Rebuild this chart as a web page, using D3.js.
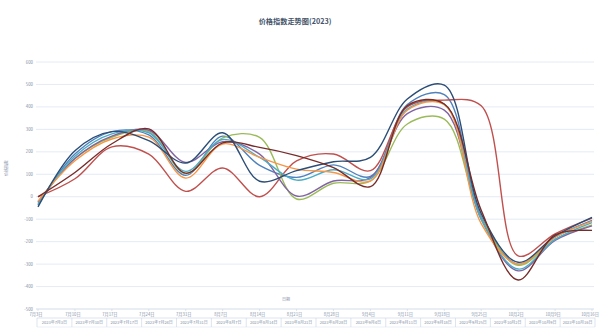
<!DOCTYPE html>
<html>
<head>
<meta charset="utf-8">
<script src="https://cdn.jsdelivr.net/npm/d3@7"></script>
<style>
  body { margin: 0; background: #fff; }
  svg { display: block; font-family: "Noto Sans CJK SC", "Noto Sans", sans-serif; }
</style>
</head>
<body>
<div id="chart"></div>
<script>
// Dates (weekly)
const dates = ["7月3日", "7月10日", "7月17日", "7月24日", "7月31日", "8月7日", "8月14日", "8月21日",
  "8月28日", "9月4日", "9月11日", "9月18日", "9月25日", "10月2日", "10月9日", "10月16日"];
const fullDates = ["2023年7月3日", "2023年7月10日", "2023年7月17日", "2023年7月24日", "2023年7月31日",
  "2023年8月7日", "2023年8月14日", "2023年8月21日", "2023年8月28日", "2023年9月4日", "2023年9月11日",
  "2023年9月18日", "2023年9月25日", "2023年10月2日", "2023年10月9日", "2023年10月16日"];
const yTicks = [600, 500, 400, 300, 200, 100, 0, -100, -200, -300, -400, -500];

// Series values
const serieBleu   = [-35, 190, 290, 275, 95, 270, 140, 86, 142, 90, 410, 455, -90, -300, -180, -105];
const serieRouge  = [0, 80, 222, 190, 24, 128, 0, 160, 190, 116, 400, 430, 405, -263, -165, -95];
const serieVert   = [-25, 170, 265, 290, 103, 262, 264, -10, 60, 70, 324, 346, -95, -305, -190, -125];
const serieViolet = [-25, 170, 270, 296, 153, 245, 190, 3, 70, 85, 370, 386, -100, -330, -195, -130];
const serieCyan   = [-35, 180, 280, 285, 113, 255, 175, 74, 120, 80, 390, 412, -100, -322, -190, -115];
const serieOrange = [-20, 160, 257, 265, 83, 235, 175, 123, 108, 70, 385, 410, -120, -300, -180, -110];
const serieMarine = [-45, 205, 290, 250, 150, 285, 69, 116, 156, 175, 435, 497, -75, -292, -175, -92];
const serieBordeaux = [0, 108, 236, 302, 105, 240, 220, 183, 130, 45, 405, 413, -60, -371, -170, -150];

const series = [
  { name: "s1", color: "#4f81bd", values: serieBleu },
  { name: "s2", color: "#c0504d", values: serieRouge },
  { name: "s3", color: "#9bbb59", values: serieVert },
  { name: "s4", color: "#8064a2", values: serieViolet },
  { name: "s5", color: "#4bacc6", values: serieCyan },
  { name: "s6", color: "#f79646", values: serieOrange },
  { name: "s7", color: "#2c4d75", values: serieMarine },
  { name: "s8", color: "#772c2a", values: serieBordeaux }
];

const W = 609, H = 330;
const plot = { left: 36, right: 594, top: 62, bottom: 309 };

const svg = d3.select("#chart").append("svg")
  .attr("width", W).attr("height", H);

const x = d3.scalePoint().domain(dates).range([38, 592]);
const y = d3.scaleLinear().domain([-500, 600]).range([plot.bottom, plot.top]);

// Title
svg.append("text")
  .attr("x", 295).attr("y", 24)
  .attr("text-anchor", "middle")
  .style("font-size", "7.2px").style("font-weight", "bold")
  .style("fill", "#44546a")
  .text("价格指数走势图(2023)");

// Gridlines
svg.append("g").selectAll("line").data(yTicks).join("line")
  .attr("x1", plot.left).attr("x2", plot.right)
  .attr("y1", d => y(d)).attr("y2", d => y(d))
  .attr("stroke", d => d === -500 ? "#c8d4e6" : "#dde6f2")
  .attr("stroke-width", 0.8);

// Y axis labels
svg.append("g").selectAll("text").data(yTicks).join("text")
  .attr("x", 33).attr("y", d => y(d)).attr("dy", "0.35em")
  .attr("text-anchor", "end")
  .style("font-size", "4.3px").style("fill", "#7f8fa6")
  .text(d => d);

// Y axis title
svg.append("text")
  .attr("transform", "translate(8,168) rotate(-90)")
  .attr("text-anchor", "middle")
  .style("font-size", "4px").style("fill", "#7f8fa6")
  .text("价格指数");

// X axis title
svg.append("text")
  .attr("x", 286).attr("y", 301)
  .attr("text-anchor", "middle")
  .style("font-size", "4px").style("fill", "#7f8fa6")
  .text("日期");

// X axis first row
const xAxis = svg.append("g");
xAxis.selectAll("line").data(dates).join("line")
  .attr("x1", d => x(d)).attr("x2", d => x(d))
  .attr("y1", plot.bottom).attr("y2", plot.bottom + 2)
  .attr("stroke", "#c8d4e6").attr("stroke-width", 0.6);
xAxis.selectAll("text").data(dates).join("text")
  .attr("x", d => x(d) - 2).attr("y", 315.5)
  .attr("text-anchor", "middle")
  .style("font-size", "4.2px").style("fill", "#7f8fa6")
  .text(d => d);

// X axis second row (boxed)
const band = d3.scaleBand().domain(fullDates).range([37, 595]);
const row2 = svg.append("g");
row2.append("line")
  .attr("x1", 37).attr("x2", 595).attr("y1", 318).attr("y2", 318)
  .attr("stroke", "#c8d4e6").attr("stroke-width", 0.6);
row2.append("line")
  .attr("x1", 37).attr("x2", 595).attr("y1", 327).attr("y2", 327)
  .attr("stroke", "#dde6f2").attr("stroke-width", 0.6);
row2.selectAll("line.sep").data(fullDates.concat(["end"])).join("line")
  .attr("class", "sep")
  .attr("x1", (d, i) => 37 + i * band.step()).attr("x2", (d, i) => 37 + i * band.step())
  .attr("y1", 318).attr("y2", 327)
  .attr("stroke", "#c8d4e6").attr("stroke-width", 0.6);
row2.selectAll("text").data(fullDates).join("text")
  .attr("x", d => band(d) + band.bandwidth() / 2).attr("y", 323.5)
  .attr("text-anchor", "middle")
  .style("font-size", "4px").style("fill", "#7f8fa6")
  .text(d => d);

// Lines
const line = d3.line()
  .x((d, i) => x(dates[i]))
  .y(d => y(d))
  .curve(d3.curveCatmullRom.alpha(0.5));

svg.append("g").selectAll("path").data(series).join("path")
  .attr("d", d => line(d.values))
  .attr("fill", "none")
  .attr("stroke", d => d.color)
  .attr("stroke-width", 1.4)
  .attr("stroke-linejoin", "round");
</script>
</body>
</html>
